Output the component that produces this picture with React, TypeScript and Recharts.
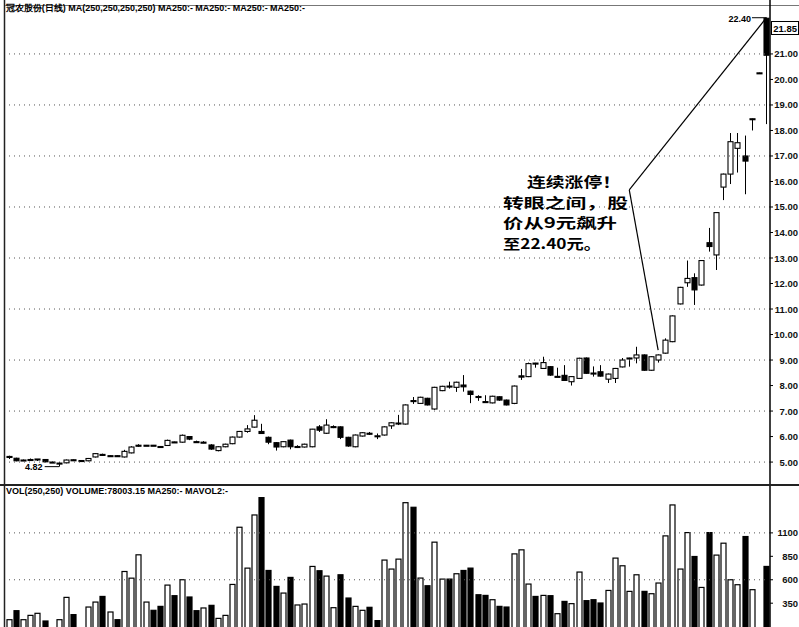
import React from 'react';
import { ComposedChart, Bar, XAxis, YAxis, ReferenceLine } from 'recharts';

// ---- price data (daily candles) ----
const opens = [
  5.18, 5.15, 5.08, 5.10, 5.12, 5.10, 5.00, 4.95, 4.97, 5.09,
  5.06, 5.05, 5.20, 5.30, 5.25, 5.25, 5.20, 5.36, 5.66, 5.66,
  5.66, 5.61, 5.65, 5.79, 5.78, 6.00, 5.80, 5.78, 5.67, 5.45,
  5.60, 5.72, 5.98, 6.20, 6.37, 6.20, 5.97, 5.76, 5.60, 5.86,
  5.60, 5.59, 5.60, 6.38, 6.13, 6.39, 6.38, 5.97, 5.60, 6.02,
  6.13, 6.02, 6.06, 6.42, 6.51, 6.49, 7.41, 7.30, 7.50, 7.08,
  7.80, 7.98, 7.93, 8.02, 7.78, 7.57, 7.37, 7.32, 7.56, 7.43,
  7.30, 8.38, 8.35, 8.88, 8.67, 8.74, 8.36, 8.40, 8.15, 8.28,
  9.08, 8.49, 8.54, 8.25, 8.28, 8.73, 9.08, 9.08, 9.20, 8.60,
  9.00, 9.27, 9.72, 11.20, 12.03, 12.23, 11.94, 13.60, 13.12, 15.78,
  16.29, 17.30, 17.00, 18.45, 20.25, 22.40,
];
const highs = [
  5.25, 5.17, 5.10, 5.14, 5.12, 5.12, 5.02, 5.00, 5.10, 5.10,
  5.08, 5.16, 5.35, 5.33, 5.26, 5.26, 5.48, 5.62, 5.70, 5.67,
  5.67, 5.62, 5.88, 5.80, 6.08, 6.02, 5.84, 5.82, 5.70, 5.62,
  5.72, 6.00, 6.22, 6.45, 6.84, 6.50, 6.00, 5.78, 5.82, 5.88,
  5.66, 5.72, 6.30, 6.45, 6.68, 6.44, 6.40, 5.99, 6.08, 6.17,
  6.18, 6.12, 6.40, 6.56, 6.85, 7.26, 7.55, 7.56, 7.52, 7.95,
  7.99, 8.15, 8.15, 8.41, 7.80, 7.62, 7.62, 7.60, 7.58, 7.45,
  8.00, 8.65, 8.90, 8.89, 9.13, 8.76, 8.70, 8.80, 8.37, 9.09,
  9.10, 8.75, 8.80, 8.47, 8.69, 9.08, 9.09, 9.52, 9.22, 9.15,
  9.22, 9.85, 10.75, 11.87, 12.90, 12.40, 12.92, 14.18, 14.80, 16.31,
  17.90, 17.90, 17.80, 18.47, 20.27, 22.42,
];
const lows = [
  5.12, 5.03, 5.05, 5.05, 5.04, 4.99, 4.97, 4.82, 4.95, 5.04,
  5.03, 5.03, 5.18, 5.24, 5.22, 5.22, 5.18, 5.34, 5.60, 5.63,
  5.63, 5.58, 5.63, 5.76, 5.76, 5.86, 5.75, 5.74, 5.48, 5.42,
  5.58, 5.70, 5.96, 6.15, 6.35, 6.10, 5.70, 5.45, 5.58, 5.50,
  5.55, 5.57, 5.58, 6.18, 6.10, 6.33, 5.90, 5.60, 5.58, 6.00,
  6.06, 5.90, 6.04, 6.30, 6.45, 6.47, 7.28, 7.28, 7.22, 7.05,
  7.78, 7.88, 7.75, 7.76, 7.31, 7.40, 7.34, 7.30, 7.40, 7.22,
  7.27, 8.22, 8.33, 8.70, 8.65, 8.38, 8.34, 8.18, 8.00, 8.26,
  8.46, 8.35, 8.35, 8.10, 8.10, 8.71, 8.74, 8.87, 8.58, 8.58,
  8.90, 9.25, 9.70, 11.18, 11.87, 11.16, 11.92, 13.25, 12.53, 15.27,
  15.90, 16.35, 15.50, 18.00, 20.23, 18.25,
];
const closes = [
  5.22, 5.05, 5.07, 5.10, 5.11, 5.01, 4.99, 4.96, 5.08, 5.06,
  5.05, 5.14, 5.33, 5.28, 5.24, 5.24, 5.42, 5.59, 5.64, 5.65,
  5.65, 5.60, 5.85, 5.77, 6.05, 5.90, 5.79, 5.77, 5.51, 5.60,
  5.70, 5.98, 6.20, 6.30, 6.64, 6.12, 5.78, 5.59, 5.80, 5.60,
  5.61, 5.70, 6.29, 6.25, 6.45, 6.37, 5.97, 5.63, 6.06, 6.15,
  6.11, 6.03, 6.38, 6.54, 6.53, 7.24, 7.39, 7.54, 7.24, 7.93,
  7.97, 7.96, 8.13, 7.95, 7.65, 7.55, 7.35, 7.58, 7.43, 7.24,
  7.98, 8.33, 8.86, 8.86, 8.90, 8.41, 8.34, 8.20, 8.35, 9.07,
  8.48, 8.47, 8.37, 8.45, 8.67, 9.00, 9.06, 9.20, 8.60, 9.13,
  9.20, 9.78, 10.73, 11.85, 12.20, 11.75, 12.90, 13.45, 14.78, 16.29,
  17.56, 17.52, 16.80, 18.46, 20.26, 20.95,
];

// ---- volume data ----
const volumes = [
  174, 270, 174, 220, 242, 160, 80, 174, 412, 228,
  80, 309, 362, 422, 256, 174, 688, 617, 866, 362,
  274, 316, 543, 430, 600, 416, 270, 299, 327, 188,
  220, 550, 1160, 724, 1291, 1476, 699, 529, 458, 625,
  331, 341, 742, 696, 639, 302, 653, 405, 316, 274,
  306, 164, 810, 714, 820, 1422, 1373, 618, 536, 1001,
  607, 607, 664, 699, 724, 440, 433, 387, 316, 309,
  876, 919, 554, 422, 433, 430, 238, 369, 345, 682,
  377, 387, 352, 486, 831, 749, 476, 653, 476, 451,
  565, 1068, 1398, 714, 1103, 848, 518, 1103, 863, 990,
  600, 547, 1061, 494, 60, 742,
];
const volColors = [
  'w', 'b', 'w', 'w', 'w', 'b', 'w', 'w', 'w', 'b',
  'w', 'w', 'w', 'b', 'w', 'b', 'w', 'w', 'w', 'w',
  'b', 'b', 'w', 'b', 'w', 'b', 'b', 'w', 'b', 'w',
  'w', 'w', 'w', 'w', 'w', 'b', 'b', 'b', 'w', 'b',
  'w', 'w', 'w', 'b', 'w', 'w', 'b', 'b', 'w', 'w',
  'b', 'b', 'w', 'w', 'w', 'w', 'b', 'w', 'b', 'w',
  'w', 'b', 'w', 'b', 'b', 'b', 'b', 'w', 'b', 'b',
  'w', 'w', 'w', 'b', 'w', 'b', 'w', 'b', 'w', 'w',
  'b', 'b', 'b', 'w', 'w', 'w', 'w', 'w', 'b', 'w',
  'w', 'w', 'w', 'w', 'w', 'b', 'w', 'b', 'w', 'w',
  'w', 'w', 'b', 'w', 'w', 'b',
];

// ---- ticks ----
const priceTicks = [5, 6, 7, 8, 9, 10, 11, 12, 13, 14, 15, 16, 17, 18, 19, 20, 21];
const priceGrid = [5, 7, 9, 11, 13, 15, 17, 19, 21];
const volTicks = [350, 600, 850, 1100];
const volGrid = [600, 1100];

const priceData = opens.map((o, i) => ({
  i,
  open: o,
  high: highs[i],
  low: lows[i],
  close: closes[i],
}));
const volData = volumes.map((v, i) => ({ i, vol: v, up: volColors[i] === 'w' }));

const FONT = '"Liberation Sans", Arial, sans-serif';
const CJK = '"Noto Sans CJK SC", "Noto Sans CJK TC", sans-serif';

const CandleShape = (props: any) => {
  const { x, y, width, height, payload } = props;
  if (x == null || y == null) return null;
  const top = Math.min(y, y + height);
  const h = Math.abs(height);
  const hi = payload.high;
  const lo = payload.low;
  const py = (v: number) => top + ((hi - v) / (hi - lo)) * h;
  const cx = Math.round(x + width / 2) + 0.5;
  const yo = py(payload.open);
  const yc = py(payload.close);
  const bt = Math.min(yo, yc);
  const bh = Math.max(1, Math.abs(yo - yc));
  const down = payload.close < payload.open;
  return (
    <g>
      <line x1={cx} x2={cx} y1={top} y2={top + h} stroke="#000" strokeWidth={1} />
      <rect
        x={cx - width / 2}
        y={bt}
        width={width}
        height={bh}
        fill={down ? '#000' : '#fff'}
        stroke="#000"
        strokeWidth={1.1}
      />
    </g>
  );
};

const VolShape = (props: any) => {
  const { x, y, width, height, payload } = props;
  if (x == null || y == null) return null;
  const cx = Math.round(x + width / 2) + 0.5;
  return (
    <rect
      x={cx - width / 2}
      y={y}
      width={width}
      height={Math.max(0, height)}
      fill={payload.up ? '#fff' : '#000'}
      stroke="#000"
      strokeWidth={1.2}
    />
  );
};

const PriceTick = (props: any) => {
  const { x, y, payload } = props;
  return (
    <text x={x + 23} y={y + 3.5} textAnchor="end" fontSize={9.5} fontWeight="bold" fontFamily={FONT} fill="#111">
      {Number(payload.value).toFixed(2)}
    </text>
  );
};

const VolTick = (props: any) => {
  const { x, y, payload } = props;
  return (
    <text x={x + 23} y={y + 3.5} textAnchor="end" fontSize={9.5} fontWeight="bold" fontFamily={FONT} fill="#111">
      {payload.value}
    </text>
  );
};

const noteLines = [
  { text: '连续涨停！', x: 527, y: 187, w: 94 },
  { text: '转眼之间，股', x: 503, y: 207.5, w: 125 },
  { text: '价从9元飙升', x: 503, y: 228, w: 114 },
  { text: '至22.40元。', x: 503, y: 248.5, w: 98 },
];

export default function App() {
  return (
    <div
      style={{
        position: 'absolute',
        left: 0,
        top: 0,
        width: 799,
        height: 627,
        overflow: 'hidden',
        background: '#fff',
      }}
    >
      <div style={{ position: 'absolute', left: 0, top: 0 }}>
        <ComposedChart width={799} height={490} data={priceData} margin={{ top: 6, right: 0, left: 5, bottom: 6 }}>
          <XAxis dataKey="i" type="category" hide />
          <YAxis
            orientation="right"
            type="number"
            domain={[4.14, 22.88]}
            ticks={priceTicks}
            allowDataOverflow
            width={29}
            tickSize={3}
            axisLine={{ stroke: '#000', strokeWidth: 1.5 }}
            tickLine={{ stroke: '#000' }}
            tick={<PriceTick />}
            interval={0}
          />
          {priceGrid.map((g) => (
            <ReferenceLine key={g} y={g} stroke="#555" strokeDasharray="1 4" />
          ))}
          <Bar
            dataKey={(d: any) => [d.low, d.high]}
            barSize={5}
            shape={<CandleShape />}
            isAnimationActive={false}
          />
          <ReferenceLine
            segment={[{ x: 86, y: 15.67 }, { x: 105, y: 22.42 }]}
            stroke="#000"
            strokeWidth={1.2}
            ifOverflow="visible"
          />
          <ReferenceLine
            segment={[{ x: 86, y: 15.67 }, { x: 90, y: 9.39 }]}
            stroke="#000"
            strokeWidth={1.2}
            ifOverflow="visible"
          />
          <ReferenceLine
            segment={[{ x: 103, y: 22.42 }, { x: 105, y: 22.42 }]}
            stroke="#000"
            strokeWidth={1}
            ifOverflow="visible"
          />
          <ReferenceLine
            segment={[{ x: 5, y: 4.82 }, { x: 7, y: 4.82 }]}
            stroke="#000"
            strokeWidth={1}
            ifOverflow="visible"
          />
        </ComposedChart>
      </div>
      <div style={{ position: 'absolute', left: 0, top: 484 }}>
        <ComposedChart width={799} height={160} data={volData} margin={{ top: 2, right: 0, left: 5, bottom: 8 }}>
          <XAxis dataKey="i" type="category" hide />
          <YAxis
            orientation="right"
            type="number"
            domain={[0, 1600]}
            ticks={volTicks}
            allowDataOverflow
            width={29}
            tickSize={3}
            axisLine={{ stroke: '#000', strokeWidth: 1.5 }}
            tickLine={{ stroke: '#000' }}
            tick={<VolTick />}
            interval={0}
          />
          {volGrid.map((g) => (
            <ReferenceLine key={g} y={g} stroke="#555" strokeDasharray="1 4" />
          ))}
          <Bar dataKey="vol" barSize={5} shape={<VolShape />} isAnimationActive={false} />
        </ComposedChart>
      </div>
      <svg
        width={799}
        height={627}
        style={{ position: 'absolute', left: 0, top: 0, pointerEvents: 'none' }}
      >
        <line x1={4.5} x2={4.5} y1={0} y2={627} stroke="#222" strokeWidth={1.5} />
        <line x1={5} x2={799} y1={5.5} y2={5.5} stroke="#777" strokeWidth={1} />
        <line x1={770} x2={770} y1={0} y2={6} stroke="#000" strokeWidth={1.5} />
        <line x1={0} x2={799} y1={485} y2={485} stroke="#222" strokeWidth={2} />
        <text x={6} y={11} fontSize={9} fontWeight="bold" fontFamily={FONT} textLength={299} lengthAdjust="spacingAndGlyphs" fill="#000">
          冠农股份(日线) MA(250,250,250,250) MA250:- MA250:- MA250:- MA250:-
        </text>
        <text x={6} y={494} fontSize={9} fontWeight="bold" fontFamily={FONT} textLength={222} lengthAdjust="spacingAndGlyphs" fill="#000">
          VOL(250,250) VOLUME:78003.15 MA250:- MAVOL2:-
        </text>
        <text x={751} y={22} fontSize={9} fontWeight="bold" fontFamily={FONT} textAnchor="end" fill="#000">
          22.40
        </text>
        <rect x={771.5} y={21.5} width={27} height={13} fill="#fff" stroke="#000" strokeWidth={1} />
        <text x={797} y={31.5} fontSize={9.5} fontWeight="bold" fontFamily={FONT} textAnchor="end" fill="#000">
          21.85
        </text>
        <text x={25} y={470} fontSize={9} fontWeight="bold" fontFamily={FONT} fill="#000">
          4.82
        </text>
        {noteLines.map((n) => (
          <text
            key={n.text}
            x={n.x}
            y={n.y}
            fontSize={14}
            fontWeight="bold"
            fontFamily={CJK}
            textLength={n.w}
            lengthAdjust="spacingAndGlyphs"
            fill="#000"
          >
            {n.text}
          </text>
        ))}
      </svg>
    </div>
  );
}
